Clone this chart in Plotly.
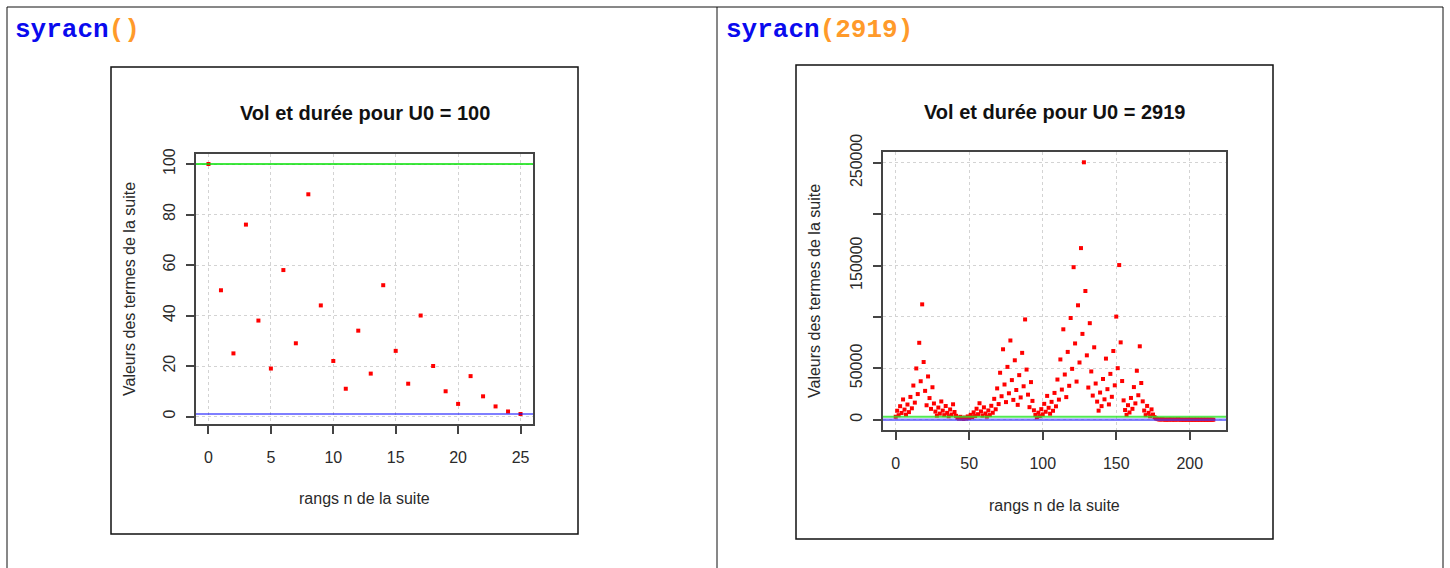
import plotly.graph_objects as go

# Syracuse sequences (terms U_n) for the two starting values
u0_a = 100
terms_a = [100, 50, 25, 76, 38, 19, 58, 29, 88, 44, 22, 11, 34, 17, 52, 26,
           13, 40, 20, 10, 5, 16, 8, 4, 2, 1]

u0_b = 2919
terms_b = [2919, 8758, 4379, 13138, 6569, 19708, 9854, 4927, 14782, 7391, 22174,
           11087, 33262, 16631, 49894, 24947, 74842, 37421, 112264, 56132, 28066,
           14033, 42100, 21050, 10525, 31576, 15788, 7894, 3947, 11842, 5921, 17764,
           8882, 4441, 13324, 6662, 3331, 9994, 4997, 14992, 7496, 3748, 1874, 937,
           2812, 1406, 703, 2110, 1055, 3166, 1583, 4750, 2375, 7126, 3563, 10690,
           5345, 16036, 8018, 4009, 12028, 6014, 3007, 9022, 4511, 13534, 6767,
           20302, 10151, 30454, 15227, 45682, 22841, 68524, 34262, 17131, 51394,
           25697, 77092, 38546, 19273, 57820, 28910, 14455, 43366, 21683, 65050,
           32525, 97576, 48788, 24394, 12197, 36592, 18296, 9148, 4574, 2287, 6862,
           3431, 10294, 5147, 15442, 7721, 23164, 11582, 5791, 17374, 8687, 26062,
           13031, 39094, 19547, 58642, 29321, 87964, 43982, 21991, 65974, 32987,
           98962, 49481, 148444, 74222, 37111, 111334, 55667, 167002, 83501, 250504,
           125252, 62626, 31313, 93940, 46970, 23485, 70456, 35228, 17614, 8807,
           26422, 13211, 39634, 19817, 59452, 29726, 14863, 44590, 22295, 66886,
           33443, 100330, 50165, 150496, 75248, 37624, 18812, 9406, 4703, 14110,
           7055, 21166, 10583, 31750, 15875, 47626, 23813, 71440, 35720, 17860, 8930,
           4465, 13396, 6698, 3349, 10048, 5024, 2512, 1256, 628, 314, 157, 472, 236,
           118, 59, 178, 89, 268, 134, 67, 202, 101, 304, 152, 76, 38, 19, 58, 29,
           88, 44, 22, 11, 34, 17, 52, 26, 13, 40, 20, 10, 5, 16, 8, 4, 2, 1]

xticks_a = [0, 5, 10, 15, 20, 25]
yticks_a = [0, 20, 40, 60, 80, 100]
xticks_b = [0, 50, 100, 150, 200]
yticks_b = [0, 50000, 100000, 150000, 200000, 250000]
ytext_b = ["0", "50000", "", "150000", "", "250000"]

W, H = 1450, 568
PX = lambda v: v / W
PY = lambda v: 1 - v / H


def r_range(lo, hi):
    pad = (hi - lo) * 0.04
    return [lo - pad, hi + pad]


fig = go.Figure()

fig.add_trace(go.Scatter(x=list(range(len(terms_a))), y=terms_a, mode="markers",
                         marker=dict(symbol="square", size=4, color="#ff0000"),
                         xaxis="x", yaxis="y", showlegend=False))
fig.add_trace(go.Scatter(x=list(range(len(terms_b))), y=terms_b, mode="markers",
                         marker=dict(symbol="square", size=4, color="#ff0000"),
                         xaxis="x2", yaxis="y2", showlegend=False))

tickfont = dict(family="Liberation Sans, Arial", size=16, color="#2a2a2a")
axis_common = dict(showline=True, mirror=True, linecolor="#444", linewidth=1.5,
                   ticks="outside", ticklen=8, tickcolor="#444", tickwidth=1.5,
                   showgrid=True, gridcolor="#d3d3d3", griddash="dot", gridwidth=1,
                   zeroline=False, tickfont=tickfont,
                   automargin=False, fixedrange=True)
x_common = dict(axis_common, ticklabelstandoff=10)
y_common = dict(axis_common, ticklabelstandoff=5, tickangle=-90)

fig.update_layout(
    width=W, height=H, margin=dict(l=0, r=0, t=0, b=0, pad=0, autoexpand=False),
    paper_bgcolor="white", plot_bgcolor="white",
    xaxis=dict(domain=[PX(196), PX(533)], anchor="y",
               range=r_range(0, len(terms_a) - 1), tickvals=xticks_a, **x_common),
    yaxis=dict(domain=[PY(424), PY(154)], anchor="x",
               range=r_range(min(terms_a), max(terms_a)), tickvals=yticks_a, **y_common),
    xaxis2=dict(domain=[PX(883), PX(1226)], anchor="y2",
                range=r_range(0, len(terms_b) - 1), tickvals=xticks_b, **x_common),
    yaxis2=dict(domain=[PY(430), PY(152)], anchor="x2",
                range=r_range(min(terms_b), max(terms_b)), tickvals=yticks_b,
                ticktext=ytext_b, **y_common),
)

shapes = []
# reference lines: starting value (green) and the final value 1 (blue)
shapes.append(dict(type="line", xref="x domain", yref="y", x0=0, x1=1, y0=u0_a, y1=u0_a,
                   line=dict(color="#00e000", width=1.5), layer="above"))
shapes.append(dict(type="line", xref="x domain", yref="y", x0=0, x1=1, y0=1, y1=1,
                   line=dict(color="#0000ff", width=1.2), layer="above"))
shapes.append(dict(type="line", xref="x2 domain", yref="y2", x0=0, x1=1, y0=u0_b, y1=u0_b,
                   line=dict(color="rgba(40,230,40,0.8)", width=2), layer="above"))
shapes.append(dict(type="line", xref="x2 domain", yref="y2", x0=0, x1=1, y0=1, y1=1,
                   line=dict(color="rgba(60,60,255,0.65)", width=2.5), layer="above"))

# page frame: table borders and the two figure frames
border = dict(color="#111", width=1)
for (x0, y0, x1, y1) in [(7, 7, 1443, 7), (7, 7, 7, H), (717, 7, 717, H), (1443, 7, 1443, H)]:
    shapes.append(dict(type="line", xref="paper", yref="paper",
                       x0=PX(x0), y0=PY(y0), x1=PX(x1), y1=PY(y1), line=border))
for (x0, y0, x1, y1) in [(111, 67, 578, 534), (796, 65, 1273, 539)]:
    shapes.append(dict(type="rect", xref="paper", yref="paper",
                       x0=PX(x0), y0=PY(y0), x1=PX(x1), y1=PY(y1),
                       line=dict(color="#111", width=1.5), fillcolor="rgba(0,0,0,0)"))
fig.update_layout(shapes=shapes)

annotations = []
code_font = dict(family="Liberation Mono, Courier New", size=26)
annotations.append(dict(xref="paper", yref="paper", x=PX(13), y=PY(30), xanchor="left",
                        yanchor="middle", showarrow=False, font=code_font,
                        text="<b><span style='color:#0a0aee'>syracn</span>"
                             "<span style='color:#ff9a2a'>()</span></b>"))
annotations.append(dict(xref="paper", yref="paper", x=PX(724), y=PY(30), xanchor="left",
                        yanchor="middle", showarrow=False, font=code_font,
                        text="<b><span style='color:#0a0aee'>syracn</span>"
                             "<span style='color:#ff9a2a'>(%d)</span></b>" % u0_b))

title_font = dict(family="Liberation Sans, Arial", size=20, color="#111")
label_font = dict(family="Liberation Sans, Arial", size=16, color="#2a2a2a")
for (cx, ty, xly, u0) in [(364.5, 113, 498, u0_a), (1054.5, 112, 505, u0_b)]:
    annotations.append(dict(xref="paper", yref="paper", x=PX(cx), y=PY(ty),
                            xanchor="center", yanchor="middle", showarrow=False,
                            font=title_font, text="<b>Vol et durée pour U0 = %d</b>" % u0))
    annotations.append(dict(xref="paper", yref="paper", x=PX(cx), y=PY(xly),
                            xanchor="center", yanchor="middle", showarrow=False,
                            font=label_font, text="rangs n de la suite"))
for (lx, cy) in [(129, 289), (814, 291)]:
    annotations.append(dict(xref="paper", yref="paper", x=PX(lx), y=PY(cy),
                            xanchor="center", yanchor="middle", showarrow=False,
                            textangle=-90, font=label_font,
                            text="Valeurs des termes de la suite"))
fig.update_layout(annotations=annotations)

fig.write_html("out.html")
